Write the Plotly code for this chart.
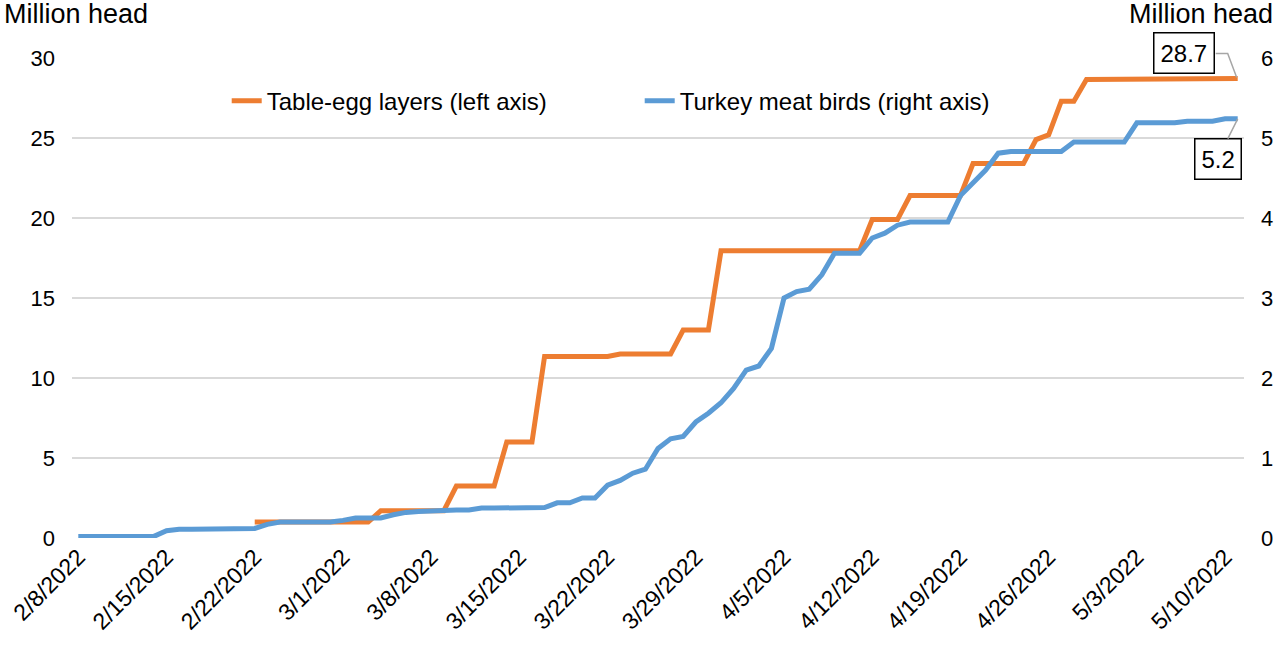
import pandas as pd
import plotly.graph_objects as go

# Daily dates covered by the series
dates = pd.date_range("2022-02-08", "2022-05-11", freq="D")

# Cumulative birds affected, table-egg layers (million head, left axis)
layers = ([None] * 14
          + [1.0] * 10 + [1.7] * 6 + [3.25] * 4 + [6.0] * 3
          + [11.35] * 6 + [11.5] * 5 + [13.0] * 3 + [17.95] * 12
          + [19.9] * 3 + [21.4] * 5 + [23.4] * 5 + [24.9, 25.2]
          + [27.3] * 2 + [28.65] * 11 + [28.72] * 2)

# Cumulative birds affected, turkey meat birds (million head, right axis)
turkeys = ([0.02] * 7 + [0.09] + [0.11] * 6 + [0.12, 0.17] + [0.2] * 5
           + [0.22] + [0.25] * 3 + [0.29, 0.32, 0.33, 0.34, 0.34, 0.35, 0.35]
           + [0.375] * 5
           + [0.38, 0.44, 0.44, 0.5, 0.5, 0.66, 0.72, 0.81, 0.86, 1.12,
              1.24, 1.27, 1.45, 1.56, 1.69, 1.87, 2.1, 2.15, 2.37, 3.0,
              3.08, 3.11, 3.29]
           + [3.56] * 3 + [3.75, 3.81, 3.91] + [3.95] * 4
           + [4.28, 4.45, 4.6, 4.81] + [4.83] * 5 + [4.95] * 5
           + [5.19] * 4 + [5.21] * 3 + [5.24] * 2)

LEFT_MAX = 30
RIGHT_MAX = 6
left_ticks = [0, 5, 10, 15, 20, 25, 30]
right_ticks = [0, 1, 2, 3, 4, 5, 6]
tick_dates = dates[::7]
tick_text = [f"{d.month}/{d.day}/{d.year}" for d in tick_dates]

ORANGE = "#ED7D31"
BLUE = "#5B9BD5"
GRID = "#D9D9D9"
LEADER = "#A6A6A6"
FONT = "Liberation Sans, Arial, sans-serif"

fig = go.Figure()
fig.add_trace(go.Scatter(
    x=dates, y=layers, name="Table-egg layers (left axis)",
    mode="lines", line=dict(color=ORANGE, width=5), yaxis="y",
    connectgaps=False, hoverinfo="skip"))
fig.add_trace(go.Scatter(
    x=dates, y=turkeys, name="Turkey meat birds (right axis)",
    mode="lines", line=dict(color=BLUE, width=5), yaxis="y2",
    hoverinfo="skip"))

x_start = dates[0] - pd.Timedelta(hours=12)
x_end = dates[-1] + pd.Timedelta(hours=12)

fig.update_layout(
    width=1279, height=649,
    margin=dict(l=72, r=35, t=58, b=111),
    paper_bgcolor="white", plot_bgcolor="white",
    font=dict(family=FONT, size=23, color="#000000"),
    showlegend=True,
    legend=dict(orientation="h", x=0.132, y=0.91, xanchor="left",
                yanchor="middle", bgcolor="rgba(0,0,0,0)",
                font=dict(size=24), entrywidth=368, entrywidthmode="pixels"),
    xaxis=dict(
        type="date", range=[x_start, x_end], automargin=False,
        tickmode="array", tickvals=tick_dates, ticktext=tick_text,
        tickangle=-45, showgrid=False, zeroline=False,
        showline=False, ticks="", tickfont=dict(size=23),
    ),
    yaxis=dict(
        range=[0, LEFT_MAX], tickmode="array", tickvals=left_ticks,
        automargin=False,
        showgrid=True, gridcolor=GRID, gridwidth=1.5,
        zeroline=False, showline=False, ticks="",
        ticklabelstandoff=16, tickfont=dict(size=22),
    ),
    yaxis2=dict(
        range=[0, RIGHT_MAX], tickmode="array", tickvals=right_ticks,
        automargin=False,
        overlaying="y", side="right", showgrid=False,
        zeroline=False, showline=False, ticks="",
        ticklabelstandoff=16, tickfont=dict(size=22),
    ),
)

# Axis unit captions
fig.add_annotation(text="Million head", xref="paper", yref="paper",
                   x=-0.060, y=1.092, xanchor="left", yanchor="middle",
                   showarrow=False, font=dict(size=27))
fig.add_annotation(text="Million head", xref="paper", yref="paper",
                   x=1.0265, y=1.092, xanchor="right", yanchor="middle",
                   showarrow=False, font=dict(size=27))

# Value callouts on the latest points
# Layers callout: box offset up-left, joined by an elbow leader line
fig.add_annotation(text=f"{layers[-1]:.1f}", x=dates[-1], y=layers[-1],
                   xref="x", yref="y", showarrow=True, arrowhead=0,
                   arrowcolor="rgba(0,0,0,0)", arrowwidth=0.1,
                   ax=-54, ay=-25,
                   bordercolor="#000000", borderwidth=1.5, borderpad=6,
                   bgcolor="white", font=dict(size=24))
fig.add_shape(type="path", xref="x", yref="paper",
              xsizemode="pixel", ysizemode="pixel",
              xanchor=dates[-1], yanchor=layers[-1] / LEFT_MAX,
              path="M -1 1 L -10 25 L -22 25",
              line=dict(color=LEADER, width=1.5))
fig.add_annotation(text=f"{turkeys[-1]:.1f}", x=dates[-1], y=turkeys[-1],
                   xref="x", yref="y2", showarrow=True, arrowhead=0,
                   arrowcolor=LEADER, arrowwidth=1.5, ax=-20, ay=40,
                   bordercolor="#000000", borderwidth=1.5, borderpad=6,
                   bgcolor="white", font=dict(size=24))

fig.write_html("out.html")
